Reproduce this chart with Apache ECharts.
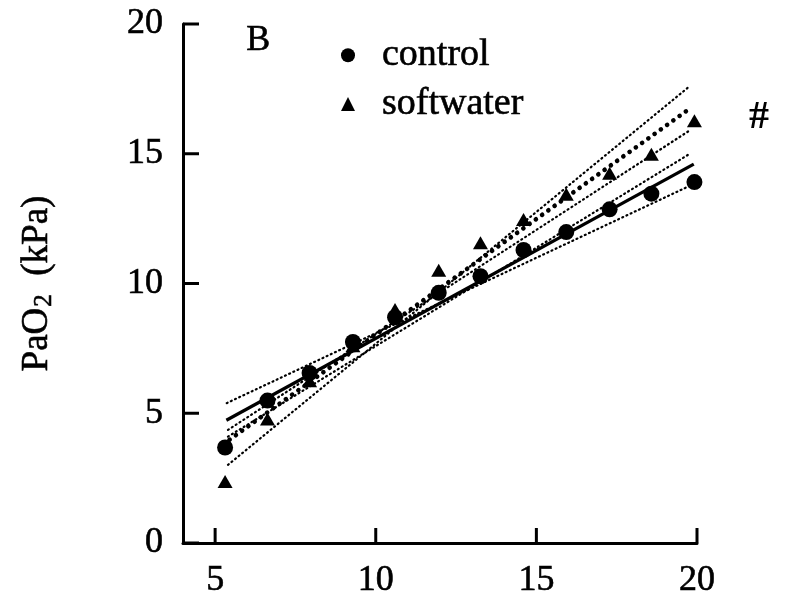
<!DOCTYPE html>
<html>
<head>
<meta charset="utf-8">
<script src="https://cdn.jsdelivr.net/npm/echarts@6/dist/echarts.min.js"></script>
<style>
  html, body { margin: 0; padding: 0; background: #fff; }
  #chart { width: 789px; height: 603px; }
</style>
</head>
<body>
<div id="chart"></div>
<script>
// Inspired O2 (x) and arterial PaO2 (y), kPa
const xValues = [5.31, 6.63, 7.94, 9.29, 10.6, 11.96, 13.26, 14.6, 15.93, 17.28, 18.58, 19.92];
const controlValues = [3.68, 5.49, 6.55, 7.75, 8.7, 9.64, 10.28, 11.29, 11.98, 12.86, 13.46, 13.91];
const softwaterValues = [2.37, 4.78, 6.25, 7.6, 9.0, 10.51, 11.57, 12.47, 13.44, 14.25, 14.98, 16.27];

// Regression lines and their slope limits, as [x, y] end points
const controlFit = [[5.35, 4.73], [19.9, 14.6]];
const controlSteep = [[5.4, 4.1], [19.75, 14.98]];
const controlShallow = [[5.36, 5.39], [19.75, 13.75]];
const softwaterFit = [[5.45, 3.98], [19.75, 16.72]];
const softwaterSteep = [[5.4, 3.01], [19.75, 17.58]];
const softwaterShallow = [[5.4, 4.36], [19.75, 15.88]];

const xTicks = [5, 10, 15, 20];
const yTicks = [0, 5, 10, 15, 20];
const X_MIN = 4;

const serif = 'Liberation Serif';
const ink = { textBorderColor: '#000', textBorderWidth: 0.6 };
const pair = (xs, ys) => xs.map((x, i) => [x, ys[i]]);

const dotted = { color: '#000', width: 2.2, type: [1, 3.6], cap: 'round' };
const bigDots = { color: '#000', width: 4.6, type: [0.1, 7.6], cap: 'round' };
const solid = { color: '#000', width: 3.2 };

function lineSeries(data, style) {
  return {
    type: 'line', data: data, symbol: 'none', silent: true,
    lineStyle: style, z: 2
  };
}

// inward tick marks drawn as thin bars anchored on the axis lines
function tickSeries(points, size, offset) {
  return {
    type: 'scatter', silent: true, clip: false, z: 6,
    data: points, symbol: 'rect', symbolSize: size, symbolOffset: offset,
    itemStyle: { color: '#000', opacity: 1 }
  };
}

const chart = echarts.init(document.getElementById('chart'), null, { renderer: 'canvas' });
chart.setOption({
  animation: false,
  backgroundColor: '#fff',
  grid: { left: 183, right: 92, top: 24, bottom: 60 },
  xAxis: {
    type: 'value', min: X_MIN, max: 20,
    splitLine: { show: false },
    axisLine: { show: true, onZero: false, lineStyle: { color: '#000', width: 3 } },
    axisTick: { show: false },
    axisLabel: Object.assign({ customValues: xTicks, margin: 20, color: '#000', fontFamily: serif, fontSize: 36 }, ink)
  },
  yAxis: {
    type: 'value', min: 0, max: 20, interval: 5,
    splitLine: { show: false },
    axisLine: { show: true, onZero: false, lineStyle: { color: '#000', width: 3 } },
    axisTick: { show: false },
    axisLabel: Object.assign({ margin: 20, color: '#000', fontFamily: serif, fontSize: 36 }, ink),
    name: '{a|PaO}{b|2}{a|  (kPa)}',
    nameLocation: 'middle',
    nameGap: 126,
    nameTextStyle: {
      rich: {
        a: Object.assign({ fontFamily: serif, fontSize: 37, color: '#000', lineHeight: 40 }, ink),
        b: Object.assign({ fontFamily: serif, fontSize: 25, color: '#000', lineHeight: 40, padding: [14, 0, 0, 1] }, ink)
      }
    }
  },
  legend: {
    data: [
      { name: 'control', icon: 'circle' },
      { name: 'softwater', icon: 'triangle' }
    ],
    orient: 'vertical',
    left: 336, top: 31,
    itemWidth: 14, itemHeight: 14, itemGap: 10,
    textStyle: Object.assign({ fontFamily: serif, fontSize: 38, color: '#000', padding: [0, 0, 0, 22] }, ink)
  },
  graphic: [
    { type: 'text', left: 246, top: 22, style: { text: 'B', fontFamily: serif, fontSize: 36, fill: '#000', stroke: '#000', lineWidth: 0.6 } },
    { type: 'text', left: 749, top: 98, style: { text: '#', fontFamily: serif, fontSize: 40, fontWeight: 'bold', fill: '#000' } }
  ],
  series: [
    tickSeries(xTicks.map(v => [v, 0]), [3, 15], [0, -7.5]),
    tickSeries(yTicks.map(v => [X_MIN, v]), [16, 3], [8, 0]),
    lineSeries(controlShallow, dotted),
    lineSeries(controlSteep, dotted),
    lineSeries(softwaterShallow, dotted),
    lineSeries(softwaterSteep, dotted),
    lineSeries(softwaterFit, bigDots),
    lineSeries(controlFit, solid),
    {
      name: 'softwater', type: 'scatter', data: pair(xValues, softwaterValues),
      symbol: 'triangle', symbolSize: [15, 13], itemStyle: { color: '#000', opacity: 1 }, z: 3
    },
    {
      name: 'control', type: 'scatter', data: pair(xValues, controlValues),
      symbol: 'circle', symbolSize: 16, itemStyle: { color: '#000', opacity: 1 }, z: 4
    }
  ]
});
</script>
</body>
</html>
